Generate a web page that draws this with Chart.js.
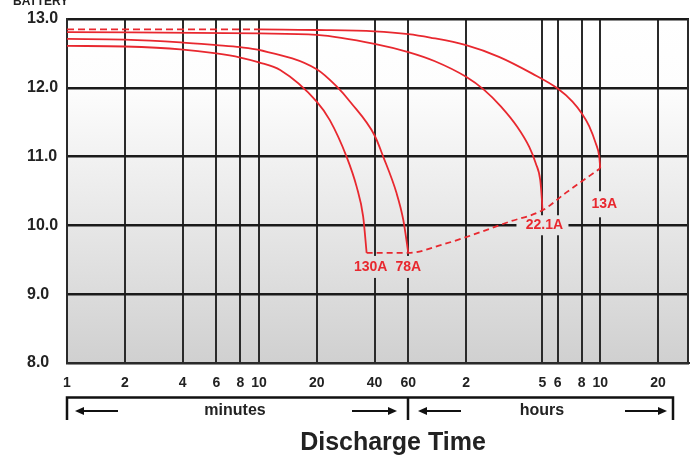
<!DOCTYPE html>
<html><head><meta charset="utf-8">
<script src="https://cdn.jsdelivr.net/npm/chart.js@4.4.1/dist/chart.umd.min.js"></script>
<style>html,body{margin:0;padding:0;background:#fff;overflow:hidden}#wrap{width:690px;height:457px;position:relative}</style>
</head><body><div id="wrap"><canvas id="c" width="690" height="457"></canvas></div>
<script>
// ---- data ----
const xTicks = [1,2,4,6,8,10,20,40,60,120,300,360,480,600,1200];
const xTickLabels = ['1','2','4','6','8','10','20','40','60','2','5','6','8','10','20'];
const yTicks = [8,9,10,11,12,13];

const min13A = [1,10,20,40,60,78,120,178,264,360,430,480,526,569,593,600];
const volt13A = [12.85,12.85,12.84,12.82,12.78,12.73,12.62,12.45,12.21,11.99,11.80,11.63,11.44,11.19,11.00,10.83];

const min22A = [1,10,20,40,60,82,120,149,182,222,256,277,292,298,300];
const volt22A = [12.81,12.79,12.77,12.64,12.52,12.39,12.16,11.97,11.73,11.43,11.14,10.90,10.66,10.37,10.22];

const min78A = [1,2,3.9,6,8,10,20,25.4,30,40,44.4,52.1,56.5,60];
const volt78A = [12.71,12.70,12.66,12.62,12.59,12.55,12.27,12.02,11.79,11.31,11.00,10.47,10.08,9.60];

const min130A = [1,2,3.9,6,8,10,12.9,20,23.4,28.6,32.3,34.9,36.4];
const volt130A = [12.61,12.60,12.56,12.50,12.44,12.37,12.26,11.80,11.53,11.00,10.56,10.13,9.60];

const minEnd = [36.4,60,90,120,200,300,400,600];
const voltEnd = [9.60,9.60,9.72,9.83,10.05,10.22,10.48,10.83];

const currentLabels = ['130A','78A','22.1A','13A'];
const labelAt = [[36.4,9.6],[60,9.6],[300,10.22],[600,10.83]];

// ---- chart ----
const RED = '#e8282f';
const pts = (m,v) => m.map((x,i)=>({x:x,y:v[i]}));
const FONT = "'Liberation Sans', Arial, sans-serif";

const deco = {
  id:'deco',
  beforeDraw(chart){
    const {ctx, chartArea:a} = chart;
    const g = ctx.createLinearGradient(0,a.top,0,a.bottom);
    g.addColorStop(0,'#ffffff'); g.addColorStop(0.2,'#fdfdfd'); g.addColorStop(1,'#d0d0d0');
    chart.$grad = g;
    ctx.save(); ctx.fillStyle='#fff'; ctx.fillRect(0,0,chart.width,chart.height);
    ctx.fillStyle=g; ctx.fillRect(a.left,a.top,a.right-a.left,a.bottom-a.top); ctx.restore();
  },
  beforeDatasetsDraw(chart){
    const {ctx} = chart; const xs=chart.scales.x, ys=chart.scales.y;
    ctx.save(); ctx.fillStyle = chart.$grad;
    const p = labelAt.map(d=>[xs.getPixelForValue(d[0]), ys.getPixelForValue(d[1])]);
    ctx.fillRect(p[0][0]-15, p[0][1]+3, (p[1][0]+15)-(p[0][0]-15), 22);
    ctx.fillRect(p[2][0]-26, p[2][1]+5, 52, 20);
    ctx.fillRect(p[3][0]-13, p[3][1]+23, 32, 26);
    ctx.restore();
  },
  afterDatasetsDraw(chart){
    const {ctx} = chart; const xs=chart.scales.x, ys=chart.scales.y;
    const p = labelAt.map(d=>[xs.getPixelForValue(d[0]), ys.getPixelForValue(d[1])]);
    ctx.save(); ctx.fillStyle=RED; ctx.font="bold 14px "+FONT; ctx.textAlign='center'; ctx.textBaseline='middle';
    ctx.fillText(currentLabels[0], p[0][0]+4, p[0][1]+14);
    ctx.fillText(currentLabels[1], p[1][0], p[1][1]+14);
    ctx.fillText(currentLabels[2], p[2][0]+2, p[2][1]+15);
    ctx.fillText(currentLabels[3], p[3][0]+4, p[3][1]+36);
    ctx.restore();
  },
  afterDraw(chart){
    const {ctx, chartArea:a} = chart; const xs=chart.scales.x;
    ctx.save();
    ctx.strokeStyle='#2a2a2a'; ctx.lineWidth=2;
    ctx.beginPath(); ctx.moveTo(a.right-1,a.top); ctx.lineTo(a.right-1,a.bottom); ctx.stroke();
    // bracket
    const xL=a.left, xM=Math.round(xs.getPixelForValue(60)), xR=673, yB=397.5;
    ctx.strokeStyle='#111'; ctx.lineWidth=2.5;
    ctx.beginPath();
    ctx.moveTo(xL,420); ctx.lineTo(xL,yB); ctx.lineTo(xR,yB); ctx.lineTo(xR,420);
    ctx.moveTo(xM,yB); ctx.lineTo(xM,420);
    ctx.stroke();
    // arrows
    const arrow=(x1,x2,y)=>{ // head at x2
      const d = x2>x1?1:-1;
      ctx.lineWidth=2; ctx.beginPath(); ctx.moveTo(x1,y); ctx.lineTo(x2-d*6,y); ctx.stroke();
      ctx.beginPath(); ctx.moveTo(x2,y); ctx.lineTo(x2-d*9,y-4); ctx.lineTo(x2-d*9,y+4); ctx.closePath(); ctx.fill();
    };
    ctx.fillStyle='#111';
    arrow(118,75,411); arrow(352,397,411); arrow(461,418,411); arrow(625,667,411);
    ctx.fillStyle='#222'; ctx.textAlign='center'; ctx.textBaseline='middle';
    ctx.font="bold 16px "+FONT;
    ctx.fillText('minutes',235,411);
    ctx.fillText('hours',542,411);
    ctx.font="bold 25px "+FONT;
    ctx.fillText('Discharge Time',393,443);
    ctx.font="bold 12px "+FONT; ctx.textAlign='left'; ctx.textBaseline='alphabetic';
    ctx.fillText('BATTERY',13,5);
    ctx.restore();
  }
};

const base = {borderColor:RED, borderWidth:1.8, pointRadius:0, fill:false, cubicInterpolationMode:'monotone'};

new Chart(document.getElementById('c'), {
  type:'line',
  data:{datasets:[
    Object.assign({}, base, {label:'13A', data:pts(min13A,volt13A),
      segment:{borderDash: c => c.p1.parsed.x <= 10 ? [7,4] : undefined}}),
    Object.assign({}, base, {label:'22.1A', data:pts(min22A,volt22A)}),
    Object.assign({}, base, {label:'78A', data:pts(min78A,volt78A)}),
    Object.assign({}, base, {label:'130A', data:pts(min130A,volt130A)}),
    Object.assign({}, base, {label:'end', data:pts(minEnd,voltEnd), borderDash:[6,4]})
  ]},
  options:{
    responsive:false, animation:false,
    layout:{padding:{left:27, top:19, right:1, bottom:0}},
    plugins:{legend:{display:false}, tooltip:{enabled:false}},
    scales:{
      x:{type:'logarithmic', min:1, max:1740,
        afterBuildTicks: s => { s.ticks = xTicks.map(v=>({value:v})); },
        afterFit: s => { s.height = 94; },
        ticks:{autoSkip:false, maxRotation:0, padding:12, color:'#222',
          font:{family:FONT, weight:'bold', size:14},
          callback:(v,i)=>xTickLabels[i]},
        grid:{color:'#2a2a2a', lineWidth:2, drawTicks:false},
        border:{color:'#2a2a2a', width:2}
      },
      y:{type:'linear', min:8, max:13,
        afterBuildTicks: s => { s.ticks = yTicks.map(v=>({value:v})); },
        afterFit: s => { s.width = 40; },
        ticks:{crossAlign:'far', color:'#222', font:{family:FONT, weight:'bold', size:16},
          callback:v=>Number(v).toFixed(1)},
        grid:{color:'#1a1a1a', lineWidth:2.5, drawTicks:false},
        border:{color:'#2a2a2a', width:2}
      }
    }
  },
  plugins:[deco]
});
</script></body></html>
